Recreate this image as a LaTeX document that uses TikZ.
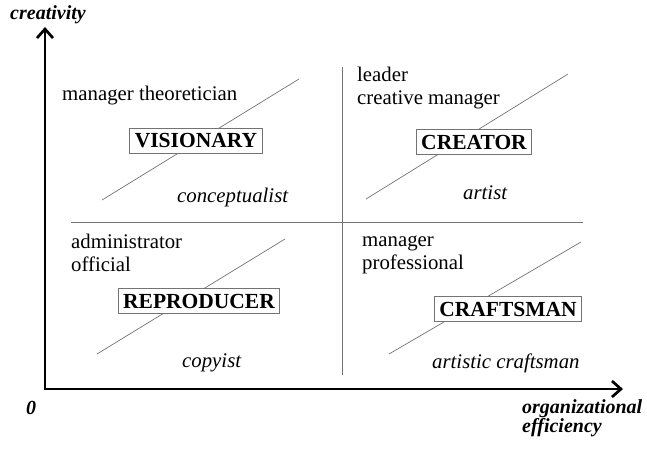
\documentclass[tikz,border=0pt]{standalone}
\usepackage{fontspec}
\setmainfont{Liberation Serif}
\usetikzlibrary{arrows.meta}
\begin{document}
\begin{tikzpicture}[x=1pt,y=-1pt,
  axis/.style={line width=2.7pt,{Straight Barb[length=9pt,width=16pt]}-{Straight Barb[length=9pt,width=16pt]}},
  divider/.style={draw=black!55,line width=0.8pt},
  diag/.style={draw=black!55,line width=0.7pt},
  role/.style={draw=black!55,line width=0.8pt,fill=white,inner xsep=5pt,minimum height=25pt,
    font=\fontsize{21.5}{24}\selectfont\bfseries},
  txt/.style={inner sep=0pt,anchor=west,align=left,font=\fontsize{20.8}{22.5}\selectfont},
  itxt/.style={txt,font=\fontsize{20.8}{22.5}\selectfont\itshape},
  axlabel/.style={inner sep=0pt,align=left,font=\fontsize{20}{19.5}\selectfont\bfseries\itshape}
]
\useasboundingbox (0,0) rectangle (647,448);
% axes
\coordinate (Ytop) at (45,27);
\coordinate (O) at (45,389);
\coordinate (Xend) at (623,389);
\draw[axis] (Ytop) -- (O) -- (Xend);
\node[axlabel] (ylab) at (48,15) {creativity};
\node[axlabel] (zero) at (31,408) {0};
\node[axlabel,anchor=west] (xlab) at (522,418) {organizational\\efficiency};
% dividers
\coordinate (vtop) at (342,67);
\coordinate (vbot) at (342,375);
\coordinate (hl) at (71,222);
\coordinate (hr) at (583,222);
\draw[divider] (vtop) -- (vbot);
\draw[divider] (hl) -- (hr);
% TL
\coordinate (a1) at (102,200); \coordinate (a2) at (299,79);
\draw[diag] (a1) -- (a2);
\node[role] (vis) at (196,141) {VISIONARY};
\node[txt] (tl1) at (62,96) {manager theoretician};
\node[itxt] (tl2) at (177,197) {conceptualist};
% TR
\coordinate (b1) at (366,199); \coordinate (b2) at (568,74);
\draw[diag] (b1) -- (b2);
\node[role] (cre) at (474,142) {CREATOR};
\node[txt] (tr1) at (357,88) {leader\\creative manager};
\node[itxt] (tr2) at (463,193) {artist};
% BL
\coordinate (c1) at (97,354); \coordinate (c2) at (285,239);
\draw[diag] (c1) -- (c2);
\node[role] (rep) at (199,301) {REPRODUCER};
\node[txt] (bl1) at (71,253) {administrator\\official};
\node[itxt] (bl2) at (182,363) {copyist};
% BR
\coordinate (d1) at (389,354); \coordinate (d2) at (581,242);
\draw[diag] (d1) -- (d2);
\node[role] (cra) at (508,309) {CRAFTSMAN};
\node[txt] (br1) at (362,255) {manager\\professional};
\node[itxt] (br2) at (432,363) {artistic craftsman};
\end{tikzpicture}
\end{document}
